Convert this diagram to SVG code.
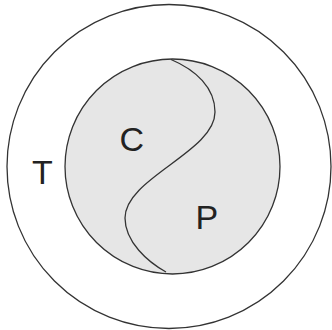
<svg xmlns="http://www.w3.org/2000/svg" width="332" height="330" viewBox="0 0 332 330">
<style>
.ln{fill:none;stroke:#333;stroke-width:1.3}
.lbl{font-family:"Liberation Sans",Arial,sans-serif;font-size:34px;fill:#222}
</style>
<rect width="332" height="330" fill="#fff"/>
<g id="T">
<circle cx="169" cy="166.5" r="162" class="ln"/>
<text class="lbl" x="32" y="184">T</text>
</g>
<g id="CP">
<circle cx="172.5" cy="166.5" r="107.5" fill="#e6e6e6" stroke="#333" stroke-width="1.3"/>
</g>
<g id="connectors">
<path class="ln" d="M171,59.5 C196,70 215,88 215,112 C215,152 125,178 125,218 C125,242 148,262 166,272"/>
</g>
<g id="C"><text class="lbl" x="119.5" y="150.5">C</text></g>
<g id="P"><text class="lbl" x="195.5" y="228.5">P</text></g>
</svg>
